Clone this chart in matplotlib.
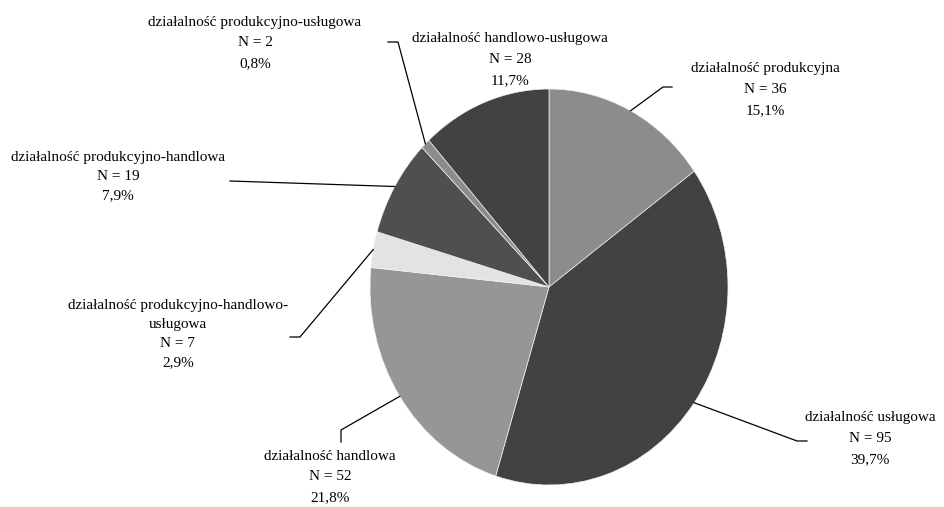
import numpy as np
import matplotlib
matplotlib.use("Agg")
import matplotlib.pyplot as plt

plt.rcParams['font.family'] = ['Liberation Serif', 'DejaVu Serif']

# dane
names = ["działalność produkcyjna", "działalność usługowa", "działalność handlowa",
         "działalność produkcyjno-handlowo-\nusługowa", "działalność produkcyjno-handlowa",
         "działalność produkcyjno-usługowa", "działalność handlowo-usługowa"]
counts = [36, 95, 52, 7, 19, 2, 28]
shares = ["15,1%", "39,7%", "21,8%", "2,9%", "7,9%", "0,8%", "11,7%"]
colors = ["#8c8c8c", "#424242", "#969696", "#e3e3e3", "#4f4f4f", "#8c8c8c", "#424242"]

# układ w pikselach
W, H = 945, 507
cx, cy, rx, ry = 549, 287, 179, 198
label_xy = [(765, 62), (870, 411), (330, 450), (178, 299), (118, 151), (255, 16), (510, 32)]
spacing = [1.8, 1.8, 1.75, 1.6, 1.6, 1.75, 1.8]
elbows = [[(663, 87), (672, 87)], [(797, 441), (807, 441)], [(341, 430), (341, 442)],
          [(300, 337), (290, 337)], [(230, 181)], [(398, 42), (388, 42)], None]

fig = plt.figure(figsize=(W / 100, H / 100), dpi=100)
ax = fig.add_axes([0, 0, 1, 1])
wedges, _ = ax.pie(counts, colors=colors, startangle=90, counterclock=False,
                   wedgeprops=dict(edgecolor="#f0f0f0", linewidth=0.5))
ax.set_aspect("auto")
ax.set_xlim(-cx / rx, (W - cx) / rx)
ax.set_ylim(-(H - cy) / ry, cy / ry)
ax.axis("off")

# warstwa na opisy (piksele)
ov = fig.add_axes([0, 0, 1, 1])
ov.set_xlim(0, W)
ov.set_ylim(H, 0)
ov.axis("off")
ov.patch.set_alpha(0)

for w, name, n, pct, (lx, ly), ls, el in zip(wedges, names, counts, shares,
                                              label_xy, spacing, elbows):
    txt = f"{name}\nN = {n}\n{pct}"
    ov.text(lx, ly, txt, ha="center", va="top", fontsize=11, linespacing=ls,
            color="black")
    if el is None:
        continue
    mid = np.deg2rad((w.theta1 + w.theta2) / 2)
    px, py = cx + rx * np.cos(mid), cy - ry * np.sin(mid)
    xs = [px] + [p[0] for p in el]
    ys = [py] + [p[1] for p in el]
    ov.plot(xs, ys, color="black", lw=0.9)

fig.savefig("out.png", dpi=100)
